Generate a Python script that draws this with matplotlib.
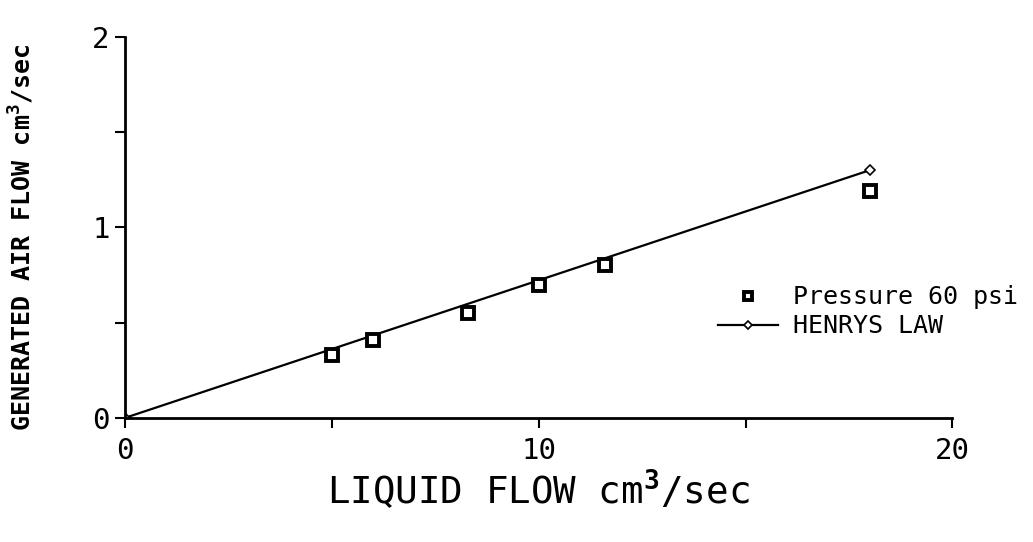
import numpy as np
import matplotlib.pyplot as plt

# measured points, pressure 60 psi
liquid_flow = [5.0, 6.0, 8.3, 10.0, 11.6, 18.0]
air_flow = [0.33, 0.41, 0.55, 0.70, 0.80, 1.19]

# henrys law line
henry_x = [0.0, 18.0]
henry_y = [0.0, 1.30]

xticks = [0, 5, 10, 15, 20]
xticklabels = ['0', '', '10', '', '20']
yticks = [0, 0.5, 1, 1.5, 2]
yticklabels = ['0', '', '1', '', '2']

plt.rcParams['font.family'] = 'DejaVu Sans Mono'
plt.rcParams['mathtext.fontset'] = 'custom'
plt.rcParams['mathtext.rm'] = 'DejaVu Sans Mono'
plt.rcParams['mathtext.bf'] = 'DejaVu Sans Mono:bold'

fig = plt.figure(figsize=(10.33, 5.42), dpi=100)
ax = fig.add_axes([0.121, 0.229, 0.801, 0.703])

ax.plot(henry_x, henry_y, color='black', lw=1.6, marker='D', ms=5,
        mfc='white', mec='black', mew=1.2, label='HENRYS LAW', zorder=2)
ax.plot(liquid_flow, air_flow, ls='none', marker='s', ms=8, mfc='white',
        mec='black', mew=2.8, label='Pressure 60 psi', zorder=3)

ax.set_xlim(0, 20)
ax.set_ylim(0, 2)
ax.set_xticks(xticks)
ax.set_xticklabels(xticklabels)
ax.set_yticks(yticks)
ax.set_yticklabels(yticklabels)
ax.tick_params(direction='out', length=7, width=1.5, labelsize=21)
ax.tick_params(axis='x', pad=7)
ax.tick_params(axis='y', pad=4)
for s in ['top', 'right']:
    ax.spines[s].set_visible(False)
for s in ['left', 'bottom']:
    ax.spines[s].set_linewidth(2)

ax.set_xlabel('LIQUID FLOW cm$^\\mathbf{3}$/sec', fontsize=27, labelpad=2)
ax.set_ylabel('GENERATED AIR FLOW cm$^\\mathbf{3}$/sec', fontsize=18,
              fontweight='bold')
ax.yaxis.set_label_coords(-0.107, 0.475)

handles, labels = ax.get_legend_handles_labels()
leg = ax.legend(handles[::-1], labels[::-1], loc='center left',
                bbox_to_anchor=(0.717, 0.278), frameon=False,
                prop={'size': 18}, handlelength=2.4, handletextpad=0.6,
                labelspacing=0.2, markerscale=0.8, borderpad=0,
                borderaxespad=0)

fig.savefig('out.png', dpi=100)
